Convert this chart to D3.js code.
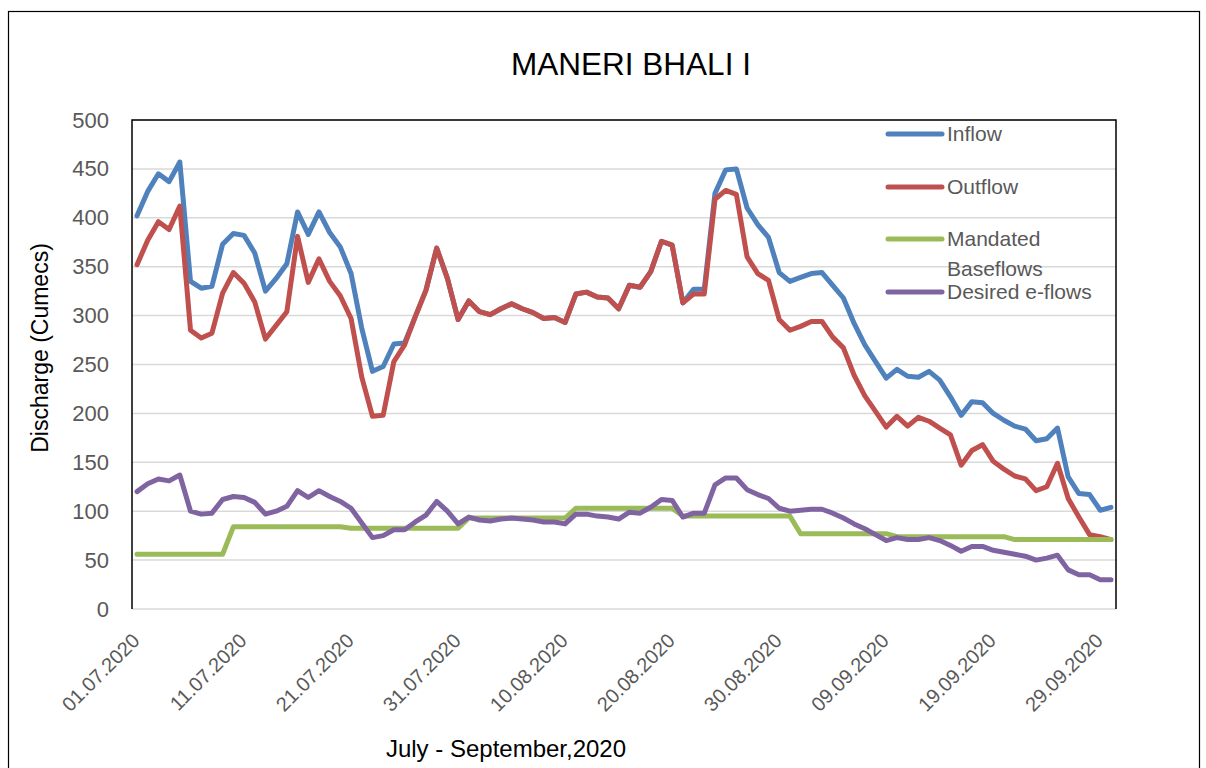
<!DOCTYPE html>
<html>
<head>
<meta charset="utf-8">
<script src="https://cdn.jsdelivr.net/npm/d3@7"></script>
<style>
  body { margin: 0; background: #fff; }
  text { font-family: "Liberation Sans", Arial, sans-serif; }
</style>
</head>
<body>
<div id="chart"></div>
<script>
// data, 01.07.2020 - 30.09.2020 (one value per day)
var inflow = [402,427,445,437,457,335,328,330,373,384,
  382,364,325,338,353,406,383,406,385,370,
  343,287,243,248,271,272,299,326,369,338,
  296,315,304,301,307,312,307,303,297,298,
  293,322,324,319,318,307,331,329,345,376,
  372,313,327,327,425,449,450,410,393,380,
  344,335,339,343,344,331,318,292,270,253,
  236,245,238,237,243,234,217,198,212,211,
  200,193,187,184,172,174,185,135,118,117,
  101,104];

var outflow = [352,377,396,388,412,285,277,282,323,344,
  333,314,276,290,304,381,334,358,335,320,
  297,237,197,198,253,270,299,326,369,338,
  296,315,304,301,307,312,307,303,297,298,
  293,322,324,319,318,307,331,329,345,376,
  372,313,322,322,419,428,424,360,343,336,
  296,285,289,294,294,278,267,239,218,202,
  186,197,187,196,192,185,178,147,162,168,
  151,143,136,133,121,125,149,113,94,76,
  74,71];

var mandated = [56,56,56,56,56,56,56,56,56,84,
  84,84,84,84,84,84,84,84,84,84,
  82.5,82.5,82.5,82.5,82.5,82.5,82.5,82.5,82.5,82.5,
  82.5,93,93,93,93,93,93,93,93,93,
  93,103,103,103,103,103,103,103,103,103,
  103,95,95,95,95,95,95,95,95,95,
  95,95,77,77,77,77,77,77,77,77,
  77,74,74,74,74,74,74,74,74,74,
  74,74,71,71,71,71,71,71,71,71,
  71,71];

var desired = [120,128,133,131,137,100,97,98,112,115,
  114,109,97,100,105,121,114,121,115,110,
  103,88,73,75,81,81,89,96,110,100,
  87,94,91,90,92,93,92,91,89,89,
  87,97,97,95,94,92,99,98,104,112,
  111,94,98,98,127,134,134,122,117,113,
  103,100,101,102,102,98,93,87,82,76,
  70,73,71,71,73,70,65,59,64,64,
  60,58,56,54,50,52,55,40,35,35,
  30,30];

var seriesNames = ["Inflow", "Outflow", "Mandated Baseflows", "Desired e-flows"];
var seriesColors = ["#4F81BD", "#C0504D", "#9BBB59", "#8064A2"];
var yTicks = [0, 50, 100, 150, 200, 250, 300, 350, 400, 450, 500];

var days = d3.timeDay.range(new Date(2020, 6, 1), new Date(2020, 8, 31));
var tickDays = days.filter((d, i) => i % 10 === 0);
var fmt = d3.timeFormat("%d.%m.%Y");

var svgWidth = 1206;
var svgHeight = 768;

var plot = { left: 132, right: 1116, top: 120, bottom: 609 };

var svg = d3.select("#chart")
  .append("svg")
  .attr("width", svgWidth)
  .attr("height", svgHeight);

// outer chart border
svg.append("rect")
  .attr("x", 8.5).attr("y", 11.5)
  .attr("width", 1191).attr("height", 780)
  .attr("fill", "none")
  .attr("stroke", "#000")
  .attr("stroke-width", 1.2);

var x = d3.scaleTime()
  .domain([days[0], days[days.length - 1]])
  .range([137, 1111]);

var y = d3.scaleLinear()
  .domain([0, 500])
  .range([plot.bottom, plot.top]);

// gridlines
svg.append("g")
  .selectAll("line")
  .data(yTicks)
  .enter().append("line")
  .attr("x1", plot.left).attr("x2", plot.right)
  .attr("y1", d => y(d)).attr("y2", d => y(d))
  .attr("stroke", "#d9d9d9")
  .attr("stroke-width", 1.5);

// plot area border (top, left, right)
svg.append("path")
  .attr("d", `M${plot.left},${plot.bottom}V${plot.top}H${plot.right}V${plot.bottom}`)
  .attr("fill", "none")
  .attr("stroke", "#000")
  .attr("stroke-width", 1.5);

// y axis labels
var leftAxis = d3.axisLeft(y).tickValues(yTicks).tickSize(0).tickPadding(0);
var yAxisG = svg.append("g")
  .attr("transform", "translate(109,0)")
  .call(leftAxis);
yAxisG.select(".domain").remove();
yAxisG.selectAll("text")
  .attr("fill", "#595959")
  .attr("font-size", 22)
  .attr("font-family", "Liberation Sans, Arial, sans-serif");

// x axis labels (rotated)
svg.append("g")
  .selectAll("text")
  .data(tickDays)
  .enter().append("text")
  .attr("transform", d => `translate(${x(d) - 1},637) rotate(-45)`)
  .attr("text-anchor", "end")
  .attr("dy", "0.35em")
  .attr("fill", "#595959")
  .attr("font-size", 20)
  .text(d => fmt(d));

// series lines
var allSeries = [inflow, outflow, mandated, desired];
var line = d3.line()
  .x((d, i) => x(days[i]))
  .y(d => y(d));

svg.append("g")
  .selectAll("path")
  .data(allSeries)
  .enter().append("path")
  .attr("d", d => line(d))
  .attr("fill", "none")
  .attr("stroke", (d, i) => seriesColors[i])
  .attr("stroke-width", 5)
  .attr("stroke-linejoin", "round")
  .attr("stroke-linecap", "round");

// legend
var legendY = [134, 187, 239, 292];
var legend = svg.append("g");
legend.selectAll("line")
  .data(seriesNames)
  .enter().append("line")
  .attr("x1", 888).attr("x2", 942)
  .attr("y1", (d, i) => legendY[i]).attr("y2", (d, i) => legendY[i])
  .attr("stroke", (d, i) => seriesColors[i])
  .attr("stroke-width", 5)
  .attr("stroke-linecap", "round");

legend.append("text").attr("x", 947).attr("y", legendY[0] + 7).text("Inflow");
legend.append("text").attr("x", 947).attr("y", legendY[1] + 7).text("Outflow");
legend.append("text").attr("x", 947).attr("y", legendY[2] + 7).text("Mandated");
legend.append("text").attr("x", 947).attr("y", 276).text("Baseflows");
legend.append("text").attr("x", 947).attr("y", legendY[3] + 7).text("Desired e-flows");
legend.selectAll("text")
  .attr("fill", "#595959")
  .attr("font-size", 21);

// title
svg.append("text")
  .attr("x", 631).attr("y", 75)
  .attr("text-anchor", "middle")
  .attr("font-size", 31.5)
  .attr("fill", "#000")
  .text("MANERI BHALI I");

// axis titles
svg.append("text")
  .attr("transform", "translate(48,348) rotate(-90)")
  .attr("text-anchor", "middle")
  .attr("font-size", 23)
  .attr("fill", "#000")
  .text("Discharge (Cumecs)");

svg.append("text")
  .attr("x", 506).attr("y", 757)
  .attr("text-anchor", "middle")
  .attr("font-size", 24)
  .attr("fill", "#000")
  .text("July - September,2020");
</script>
</body>
</html>
